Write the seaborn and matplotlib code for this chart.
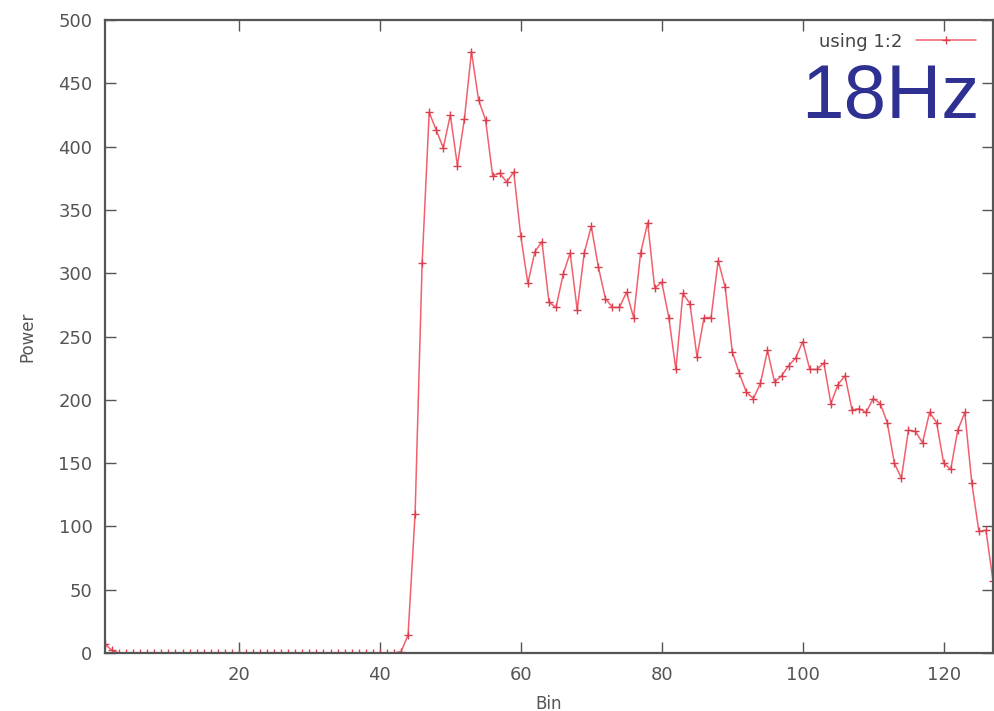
import numpy as np
import pandas as pd
import matplotlib
matplotlib.use("Agg")
import matplotlib.pyplot as plt
import seaborn as sns

# ---- data ----
bins = list(range(1, 128))
power_low = [7, 2] + [0] * 40 + [1]          # bins 1..43
power_high = [14, 110, 308, 427, 413, 399, 425, 385, 422, 475,      # 44..53
              437, 421, 377, 379, 372, 380, 329, 292, 317, 325,      # 54..63
              277, 273, 299, 316, 271, 316, 337, 305, 280, 273,      # 64..73
              273, 285, 265, 316, 340, 288, 293, 265, 224, 284,      # 74..83
              276, 234, 265, 265, 310, 289, 238, 221, 206, 201,      # 84..93
              213, 239, 214, 219, 227, 233, 246, 224, 224, 229,      # 94..103
              197, 212, 219, 192, 193, 190, 201, 197, 182, 150,      # 104..113
              138, 176, 175, 166, 190, 182, 150, 145, 176, 190,      # 114..123
              134, 96, 97, 57]                                       # 124..127
power = power_low + power_high
series_label = "using 1:2"
annotation = "18Hz"
x_ticks = [20, 40, 60, 80, 100, 120]
y_ticks = list(range(0, 501, 50))

df = pd.DataFrame({"Bin": bins, "Power": power})

sns.set_theme(style="white")
plt.rcParams["font.family"] = ["DejaVu Sans"]

fig = plt.figure(figsize=(9.94, 7.11), dpi=100)
ax = fig.add_axes([105 / 994, 58 / 711, (993 - 105) / 994, (653 - 20) / 711])

sns.lineplot(data=df, x="Bin", y="Power", ax=ax, color="#f2606d", linewidth=1.1,
             marker="+", markersize=6, markeredgecolor="#d8404f", markeredgewidth=1.0,
             label=series_label)

ax.set_xlim(1, 127)
ax.set_ylim(0, 500)
ax.set_xticks(x_ticks)
ax.set_yticks(y_ticks)
ax.tick_params(axis="both", which="major", direction="in", length=8, width=1,
               color="#555555", labelsize=13, labelcolor="#555555",
               top=True, right=True, bottom=True, left=True, pad=9)
for s in ax.spines.values():
    s.set_visible(True)
    s.set_color("#555555")
    s.set_linewidth(1.6)

ax.set_xlabel("Bin", fontsize=12, color="#555555", labelpad=8)
ax.set_ylabel("Power", fontsize=12, color="#555555", labelpad=16)

leg = ax.legend(loc="upper right", frameon=False, markerfirst=False,
                fontsize=13, handlelength=3.3, borderaxespad=0.3,
                bbox_to_anchor=(0.995, 1.0))
for t in leg.get_texts():
    t.set_color("#444444")

fig.text(0.985, 0.834, annotation, ha="right", va="baseline",
         fontsize=55, color="#2e3192", family="Liberation Sans")

fig.savefig("out.png", dpi=100, facecolor="white")
